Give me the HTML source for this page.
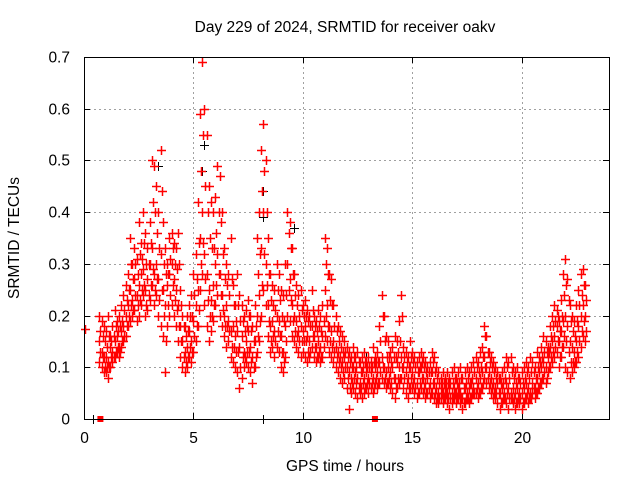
<!DOCTYPE html>
<html><head><meta charset="utf-8"><style>
body{margin:0;background:#fff;}
svg{display:block;font-family:"Liberation Sans",sans-serif;}
</style></head><body>
<svg id="chart" width="640" height="480">
<text x="345" y="32" font-size="15.5" text-anchor="middle">Day 229 of 2024, SRMTID for receiver oakv</text>
<text x="345" y="471" font-size="15.5" text-anchor="middle">GPS time / hours</text>
<text transform="translate(19,238) rotate(-90)" font-size="15.5" text-anchor="middle">SRMTID / TECUs</text>
<g id="grid"></g><g id="ticks"></g><g id="marks"></g>
<rect x="84.5" y="57.5" width="525" height="362" fill="none" stroke="#000"/>
</svg>
<script>
const xTicks=[0,5,10,15,20];
const yTicks=[0,0.1,0.2,0.3,0.4,0.5,0.6,0.7];
const yTickLabels=["0","0.1","0.2","0.3","0.4","0.5","0.6","0.7"];
const tStart=0.7, tStep=0.1;
const hiVals=[.20,.19,.18,
.17,.20,.16,.18,.21,.19,.20,.22,.24,.26,
.28,.35,.30,.33,.31,.38,.34,.40,.36,.33,
.38,.50,.49,.45,.40,.52,.38,.33,.30,.35,
.36,.34,.33,.36,.25,.20,.18,.20,.22,.24,
.28,.32,.42,.59,.69,.60,.55,.45,.42,.40,
.43,.49,.47,.40,.33,.30,.28,.35,.26,.22,
.28,.24,.22,.20,.21,.23,.20,.18,.22,.35,
.40,.52,.57,.50,.35,.28,.26,.25,.30,.28,
.25,.24,.30,.40,.38,.33,.28,.26,.24,.25,
.22,.23,.21,.20,.25,.20,.19,.21,.20,.22,
.35,.33,.28,.27,.22,.20,.18,.17,.16,.15,
.14,.13,.12,.14,.12,.13,.11,.12,.13,.11,
.12,.11,.14,.12,.13,.18,.24,.20,.16,.15,
.13,.14,.16,.15,.19,.24,.14,.13,.12,.15,
.13,.12,.11,.12,.13,.12,.11,.10,.11,.13,
.12,.10,.09,.08,.09,.08,.09,.08,.09,.10,
.08,.09,.10,.08,.09,.10,.09,.10,.11,.12,
.11,.13,.14,.18,.16,.13,.12,.11,.10,.09,
.08,.09,.10,.12,.11,.12,.10,.09,.10,.08,
.09,.10,.11,.10,.12,.11,.10,.13,.12,.14,
.16,.15,.14,.18,.20,.22,.21,.19,.23,.28,
.31,.27,.22,.20,.19,.22,.25,.28,.29,.26];
const midVals=[.15,.13,.12,
.12,.11,.14,.13,.15,.16,.14,.17,.18,.20,
.22,.25,.23,.27,.24,.26,.28,.29,.25,.27,
.30,.33,.28,.30,.27,.32,.25,.22,.26,.28,
.30,.27,.25,.22,.18,.15,.13,.14,.17,.15,
.19,.22,.25,.35,.40,.32,.28,.25,.23,.26,
.30,.32,.28,.24,.20,.22,.19,.17,.18,.16,
.17,.14,.16,.13,.15,.17,.14,.12,.15,.20,
.24,.33,.40,.30,.22,.18,.19,.17,.20,.19,
.16,.13,.18,.30,.27,.22,.20,.19,.17,.18,
.17,.18,.16,.15,.18,.16,.14,.15,.14,.16,
.25,.22,.18,.17,.15,.14,.13,.12,.11,.12,
.10,.09,.08,.10,.09,.08,.07,.09,.08,.09,
.08,.09,.08,.10,.09,.11,.12,.10,.09,.10,
.09,.10,.08,.11,.10,.12,.10,.09,.08,.10,
.09,.08,.07,.09,.10,.08,.07,.08,.07,.09,
.07,.06,.05,.06,.05,.06,.05,.06,.05,.06,
.05,.06,.05,.04,.06,.05,.06,.07,.06,.08,
.07,.08,.09,.12,.10,.09,.08,.07,.06,.07,
.05,.06,.05,.07,.06,.05,.06,.05,.06,.05,
.05,.06,.07,.06,.05,.07,.06,.08,.09,.10,
.11,.10,.12,.14,.15,.16,.18,.15,.17,.19,
.20,.18,.15,.14,.13,.15,.18,.20,.22,.20];
const loVals=[.11,.10,.09,
.09,.08,.10,.11,.12,.13,.12,.14,.15,.16,
.18,.19,.20,.21,.19,.20,.22,.24,.20,.21,
.23,.26,.22,.24,.20,.18,.16,.09,.18,.20,
.22,.20,.18,.15,.12,.10,.09,.10,.12,.11,
.13,.15,.18,.25,.28,.22,.18,.15,.17,.19,
.22,.24,.20,.18,.16,.14,.15,.12,.11,.10,
.09,.06,.08,.10,.11,.10,.09,.07,.10,.13,
.15,.20,.25,.22,.16,.13,.14,.12,.14,.13,
.10,.09,.12,.20,.19,.16,.15,.14,.13,.12,
.13,.12,.11,.12,.14,.12,.11,.12,.11,.12,
.16,.15,.13,.12,.11,.10,.09,.08,.07,.08,
.06,.02,.05,.06,.05,.04,.05,.04,.05,.06,
.05,.06,.05,.07,.06,.07,.08,.07,.06,.07,
.06,.05,.04,.06,.07,.08,.06,.05,.04,.06,
.06,.05,.04,.05,.06,.05,.04,.05,.04,.05,
.04,.03,.03,.04,.03,.04,.03,.02,.03,.04,
.03,.04,.03,.02,.03,.04,.03,.04,.05,.05,
.04,.05,.06,.08,.07,.06,.05,.04,.04,.03,
.02,.03,.04,.03,.02,.04,.03,.02,.03,.03,
.02,.03,.04,.03,.04,.05,.04,.05,.06,.07,
.08,.07,.09,.10,.11,.12,.13,.10,.12,.14,
.10,.09,.08,.09,.10,.11,.12,.14,.16,.15];
const halfStart=0.75;
const upperHalfVals=[.17,.16,.15,
.14,.16,.15,.16,.18,.17,.18,.19,.21,.23,
.25,.30,.27,.30,.28,.32,.31,.34,.30,.30,
.34,.42,.40,.36,.33,.44,.30,.28,.28,.31,
.33,.30,.29,.30,.22,.18,.16,.17,.20,.20,
.24,.27,.34,.48,.55,.45,.40,.35,.33,.33,
.36,.40,.38,.32,.27,.26,.24,.27,.22,.19,
.22,.19,.19,.17,.18,.20,.17,.15,.18,.28,
.32,.44,.48,.40,.28,.23,.22,.21,.25,.23,
.20,.19,.24,.36,.33,.28,.24,.22,.20,.21,
.20,.20,.19,.18,.21,.18,.17,.18,.17,.19,
.30,.28,.23,.22,.18,.17,.15,.14,.13,.13,
.12,.11,.10,.12,.10,.11,.09,.10,.11,.10,
.10,.10,.11,.11,.11,.15,.20,.15,.12,.12,
.11,.12,.12,.13,.15,.20,.12,.11,.10,.12,
.11,.10,.09,.10,.11,.10,.09,.09,.09,.11,
.09,.08,.07,.07,.07,.07,.07,.07,.07,.08,
.07,.07,.08,.06,.07,.08,.07,.08,.09,.10,
.09,.10,.12,.16,.13,.11,.10,.09,.08,.08,
.07,.07,.08,.10,.08,.09,.08,.07,.08,.07,
.07,.08,.09,.08,.09,.09,.08,.10,.11,.12,
.13,.13,.13,.16,.18,.19,.20,.17,.20,.24,
.26,.23,.19,.17,.16,.19,.22,.24,.26,.23];
const lowerHalfVals=[.13,.12,.10,
.10,.10,.12,.12,.13,.14,.13,.15,.16,.18,
.20,.22,.21,.24,.22,.23,.25,.26,.22,.24,
.26,.29,.25,.27,.23,.25,.20,.15,.22,.24,
.26,.23,.21,.18,.15,.12,.11,.12,.14,.13,
.16,.18,.21,.30,.34,.27,.23,.20,.20,.22,
.26,.28,.24,.21,.18,.18,.17,.14,.14,.13,
.13,.10,.12,.12,.13,.13,.11,.10,.12,.16,
.19,.26,.32,.26,.19,.15,.16,.15,.17,.16,
.13,.11,.15,.25,.23,.19,.17,.16,.15,.15,
.15,.15,.13,.13,.16,.14,.12,.13,.12,.14,
.20,.18,.15,.14,.13,.12,.11,.10,.09,.10,
.08,.06,.07,.08,.07,.06,.06,.07,.06,.07,
.07,.07,.06,.08,.07,.09,.10,.08,.07,.08,
.07,.08,.06,.08,.08,.10,.08,.07,.06,.08,
.07,.06,.05,.07,.08,.06,.05,.06,.05,.07,
.05,.04,.04,.05,.04,.05,.04,.04,.04,.05,
.04,.05,.04,.03,.04,.04,.04,.05,.05,.06,
.05,.06,.07,.10,.08,.07,.06,.05,.05,.05,
.03,.04,.04,.05,.04,.04,.04,.03,.04,.04,
.03,.04,.05,.04,.04,.06,.05,.06,.07,.08,
.09,.08,.10,.12,.13,.14,.15,.12,.14,.16,
.15,.13,.11,.11,.11,.13,.15,.17,.19,.17];
const blackTimes=[0.4,3.4,5.3,5.4,5.5,8.2,8.2,8.2,9.6,12.9];
const blackVals=[0,0.49,0.59,0.48,0.53,0.44,0.39,0,0.37,0.12];
const extraTimes=[0.05];
const extraVals=[0.175];
const squareTimes=[0.75,13.3];
const squareVals=[0,0];

const NS="http://www.w3.org/2000/svg";
const X0=84,X1=609,Y0=419,Y1=57,XMAX=24,YMAX=0.7;
const sx=t=>X0+t/XMAX*(X1-X0);
const sy=v=>Y0-v/YMAX*(Y0-Y1);
const grid=document.getElementById('grid'),ticks=document.getElementById('ticks'),marks=document.getElementById('marks');
function mk(tag,attrs,parent){const e=document.createElementNS(NS,tag);for(const k in attrs)e.setAttribute(k,attrs[k]);parent.appendChild(e);return e;}
yTicks.forEach((v,i)=>{
  const y=Math.round(sy(v))+0.5;
  if(v>0&&v<YMAX){const g=mk('line',{x1:X0,x2:X1,y1:y,y2:y,stroke:'#a0a0a0','stroke-dasharray':'2,3'},grid);
  
  }
  mk('line',{x1:X0,x2:X0+6,y1:y,y2:y,stroke:'#000'},ticks);
  mk('line',{x1:X1-6,x2:X1,y1:y,y2:y,stroke:'#000'},ticks);
  const t=mk('text',{x:X0-14,y:y+5,'font-size':15.5,'text-anchor':'end'},ticks);t.textContent=yTickLabels[i];
  
  
});
xTicks.forEach(v=>{
  const x=Math.round(sx(v))+0.5;
  if(v>0){const g=mk('line',{x1:x,x2:x,y1:Y0,y2:Y1,stroke:'#a0a0a0','stroke-dasharray':'2,3'},grid);
  
  }
  mk('line',{x1:x,x2:x,y1:Y0,y2:Y0-6,stroke:'#000'},ticks);
  mk('line',{x1:x,x2:x,y1:Y1,y2:Y1+6,stroke:'#000'},ticks);
  const t=mk('text',{x:x,y:Y0+24,'font-size':15.5,'text-anchor':'middle'},ticks);t.textContent=String(v);
  
  
});
function plus(t,v,color,name,w){
  const x=Math.round(sx(t))+0.5,y=Math.round(sy(v))+0.5;
  const p=mk('path',{d:`M${x-4.5},${y}h9M${x},${y-4.5}v9`,stroke:color,'stroke-width':w,fill:'none'},marks);
  
  
}
blackTimes.forEach((t,i)=>plus(t,blackVals[i],'#000','black-point',1));
[loVals,midVals,hiVals].forEach(arr=>arr.forEach((v,i)=>plus(tStart+i*tStep,v,'#ff0000','srmtid-point',1.5)));
[lowerHalfVals,upperHalfVals].forEach(arr=>arr.forEach((v,i)=>plus(halfStart+i*tStep,v,'#ff0000','srmtid-point',1.5)));
extraTimes.forEach((t,i)=>plus(t,extraVals[i],'#ff0000','srmtid-point',1.5));
squareTimes.forEach((t,i)=>{
  const r=mk('rect',{x:sx(t)-3,y:sy(squareVals[i])-3,width:6,height:6,fill:'#ff0000'},marks);
  
  
});
</script>
</body></html>
